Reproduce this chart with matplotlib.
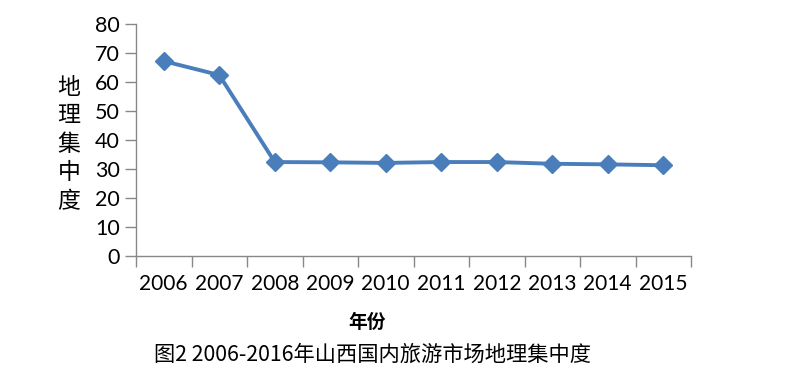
import matplotlib
matplotlib.use("Agg")
import matplotlib.pyplot as plt

years = ["2006", "2007", "2008", "2009", "2010", "2011", "2012", "2013", "2014", "2015"]
values = [67.2, 62.4, 32.4, 32.3, 32.1, 32.4, 32.4, 31.8, 31.6, 31.3]
yticks = [0, 10, 20, 30, 40, 50, 60, 70, 80]

plt.rcParams['font.family'] = ['Lato', 'Noto Sans CJK SC', 'DejaVu Sans']
cjk = ['Noto Sans CJK SC', 'DejaVu Sans']

fig = plt.figure(figsize=(8, 3.73), dpi=100)
W, H = 800, 373
ax = fig.add_axes([136 / W, 1 - 256 / H, (691 - 136) / W, (256 - 24) / H])

x = list(range(len(years)))
ax.plot(x, values, color='#4A7EBB', lw=2.8, marker='D', ms=9.5,
        markerfacecolor='#4A7EBB', markeredgecolor='#4A7EBB', clip_on=False)

ax.set_xlim(-0.5, len(years) - 0.5)
ax.set_ylim(0, 80)
ax.set_yticks(yticks)
ax.set_yticklabels([str(v) for v in yticks])
ax.set_xticks([i - 0.5 for i in range(len(years) + 1)], minor=False)
ax.set_xticklabels([])
ax.set_xticks(x, minor=True)
ax.set_xticklabels(years, minor=True)
ax.tick_params(axis='x', which='major', length=8, width=1, color='#888888', direction='out')
ax.tick_params(axis='x', which='minor', length=0, labelsize=15, pad=13)
ax.tick_params(axis='y', length=8, width=1, color='#888888', labelsize=15.5, pad=3.5)

for s in ['top', 'right']:
    ax.spines[s].set_visible(False)
for s in ['left', 'bottom']:
    ax.spines[s].set_color('#888888')
    ax.spines[s].set_linewidth(1)

ylabel_chars = ["地", "理", "集", "中", "度"]
for i, ch in enumerate(ylabel_chars):
    fig.text(69 / W, 1 - (87 + i * 28.6) / H, ch, family=cjk, fontsize=16.5,
             fontweight='medium', ha='center', va='center')

fig.text(367 / W, 1 - 322 / H, "年份", family=cjk, fontsize=13.5, fontweight='bold',
         ha='center', va='center')
fig.text(372 / W, 1 - 355 / H, "图2 2006-2016年山西国内旅游市场地理集中度", family=cjk,
         fontsize=15.3, ha='center', va='center')

fig.savefig("out.png", dpi=100)
